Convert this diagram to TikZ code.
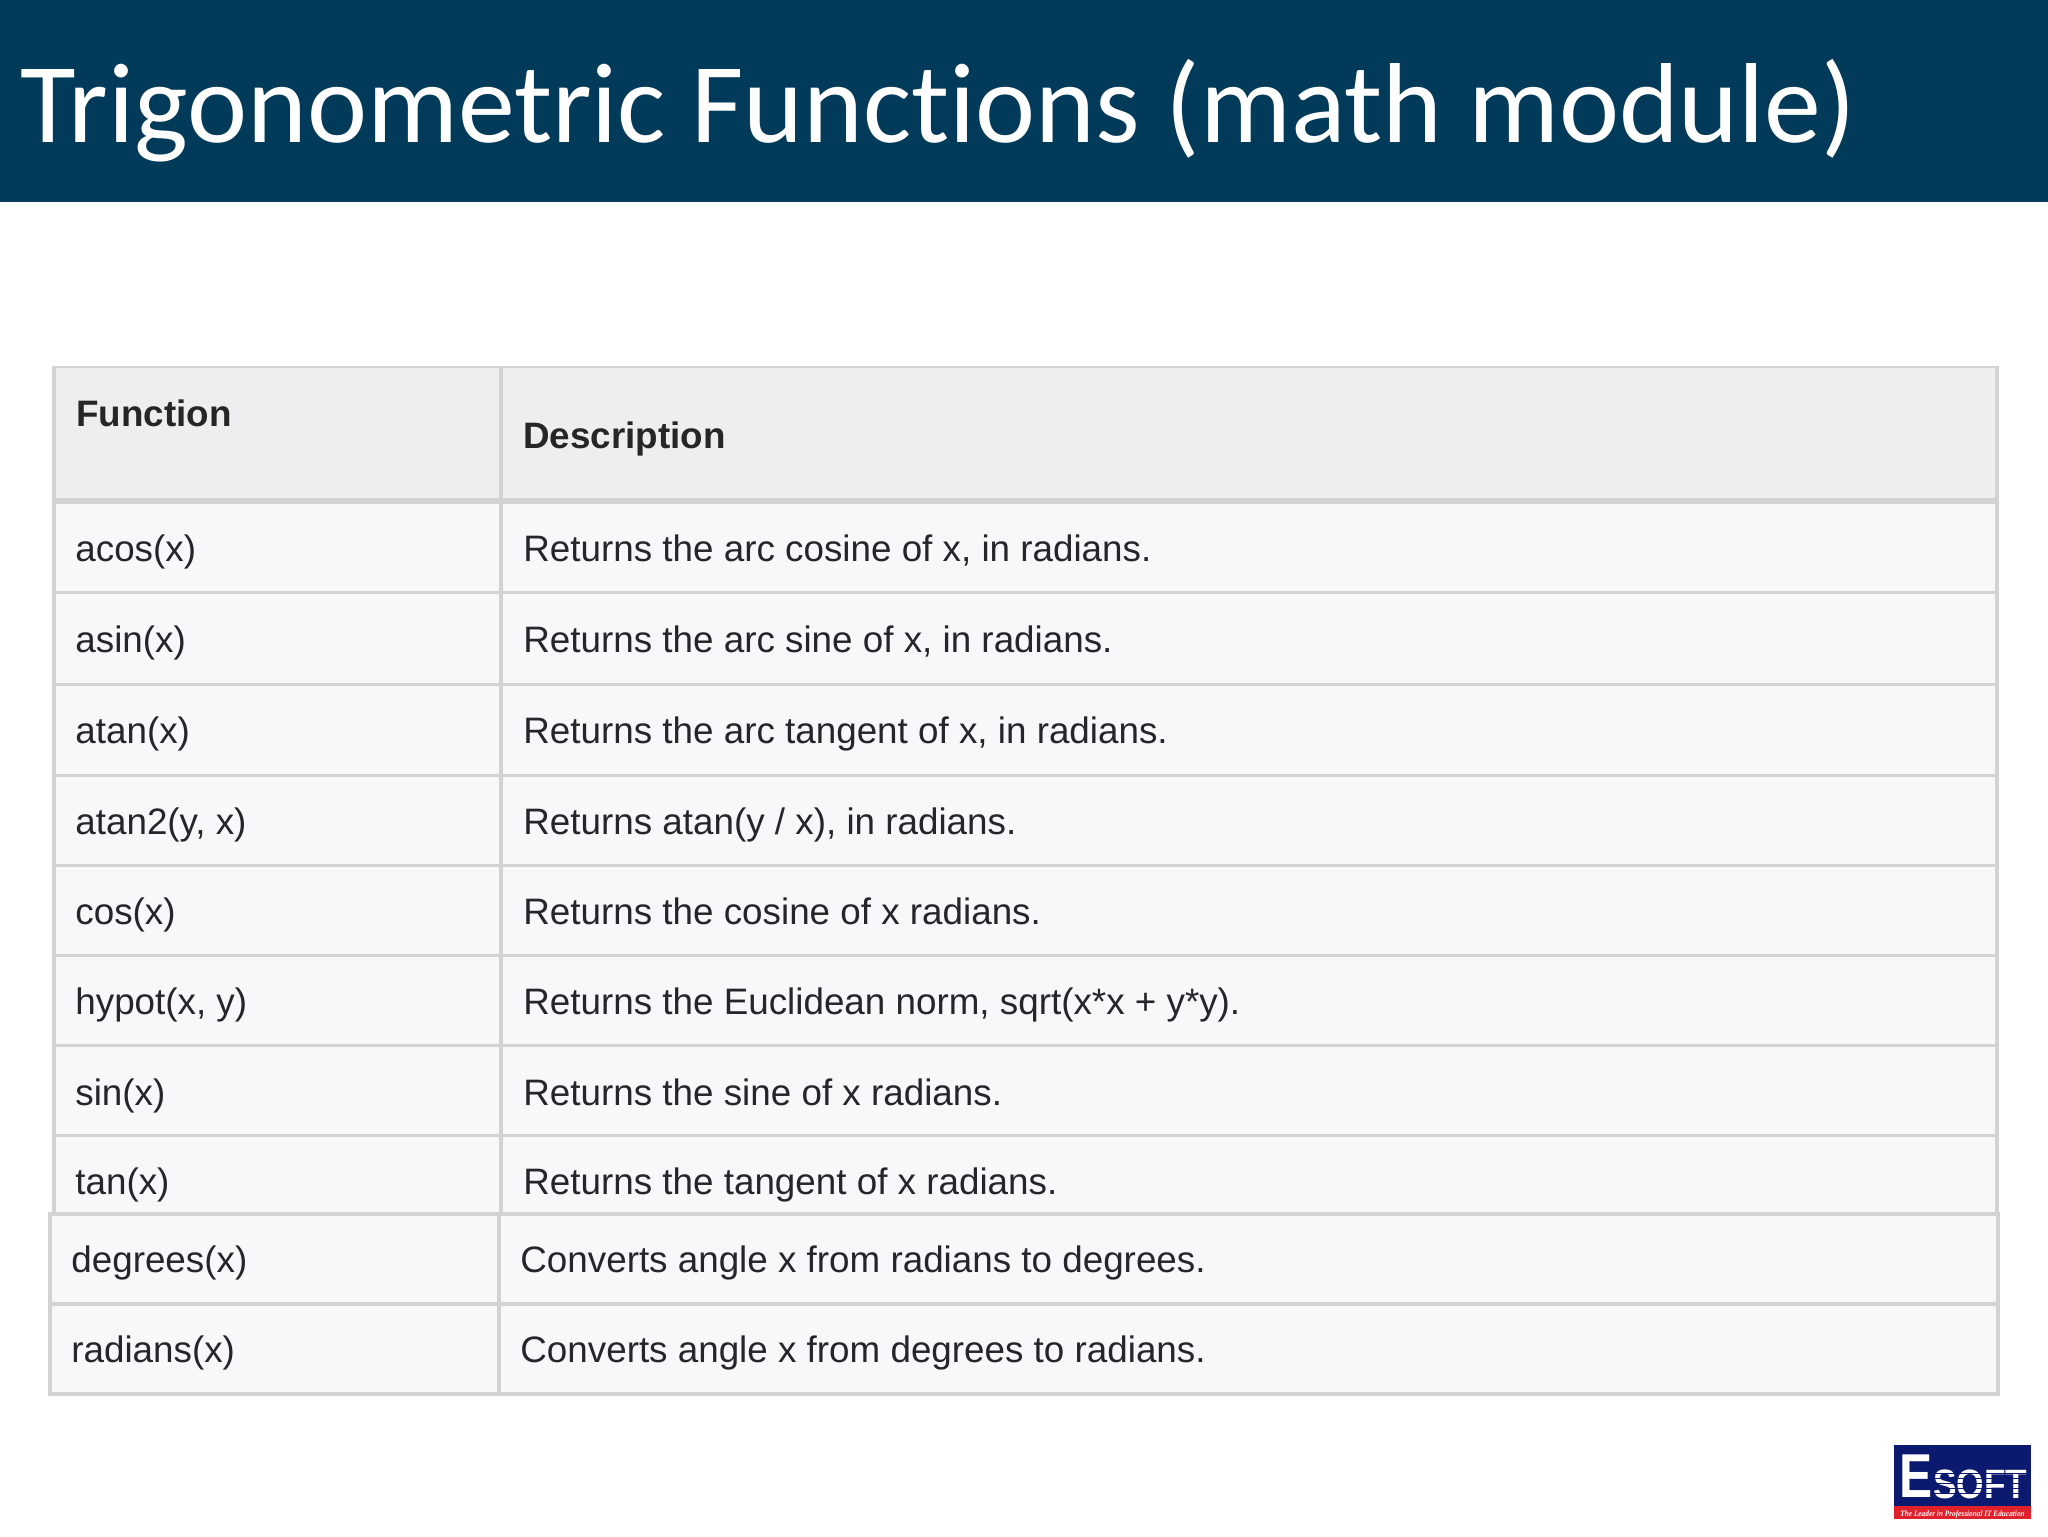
\documentclass[tikz,border=0pt]{standalone}
\usepackage{fontspec}
\usepackage{graphicx}
\setmainfont{Liberation Sans}
\newfontfamily\titlefont[Ligatures=NoCommon]{Carlito}
\newfontfamily\logoserif{Liberation Serif}
\definecolor{banner}{HTML}{023A5A}
\definecolor{headfill}{HTML}{EEEDEF}
\definecolor{cellfill}{HTML}{F8F7F9}
\definecolor{rulegrey}{HTML}{D3D2D5}
\definecolor{inktext}{HTML}{26262A}
\definecolor{logoblue}{HTML}{0B1A6E}
\definecolor{logored}{HTML}{E0202A}
\tikzset{
  x=0.5pt,y=-0.5pt,
  cellrule/.style={draw=rulegrey,line width=1.5pt},
  cell/.style={anchor=base west,inner sep=0pt,text=inktext,font=\fontsize{18.4}{22}\selectfont},
  headcell/.style={anchor=base west,inner sep=0pt,text=black!85,font=\fontsize{18.4}{22}\selectfont\bfseries},
}
\begin{document}
\begin{tikzpicture}
\useasboundingbox (0,0) rectangle (2048,1536);
\fill[white] (0,0) rectangle (2048,1536);
\fill[banner] (0,0) rectangle (2048,202);
\node[anchor=base west,inner sep=0pt,text=white,font=\titlefont\fontsize{56.9}{60}\selectfont] (title) at (20,142.5) {Trigonometric Functions (math module)};
% upper table
\fill[cellfill] (54,367) rectangle (1998,1214);
\fill[headfill] (54,367) rectangle (1998,501);
\draw[cellrule,line width=1pt] (52,367) -- (1998,367);
\draw[cellrule,line width=3pt] (54,501) -- (1998,501);
\foreach \yy in {592,684,775,865,955,1045,1135}
  \draw[cellrule] (54,\yy) -- (1998,\yy);
\draw[cellrule,line width=2.2pt] (54,366) -- (54,1214);
\draw[cellrule,line width=2.2pt] (1997,366) -- (1997,1214);
\draw[cellrule,line width=2pt] (501,367) -- (501,1214);
% lower table
\fill[cellfill] (50,1214) rectangle (1998,1394);
\draw[cellrule,line width=1.8pt] (50,1214) rectangle (1998,1394);
\draw[cellrule,line width=1.8pt] (50,1304) -- (1998,1304);
\draw[cellrule,line width=1.8pt] (499,1214) -- (499,1394);
% header text
\node[headcell] (hf) at (76,426.5) {Function};
\node[headcell] (hd) at (523,448.5) {Description};
% rows
\node[cell] (f1) at (75,561.5) {acos(x)};
\node[cell] (d1) at (523,561.5) {Returns the arc cosine of x, in radians.};
\node[cell] (f2) at (75,652.5) {asin(x)};
\node[cell] (d2) at (523,652.5) {Returns the arc sine of x, in radians.};
\node[cell] (f3) at (75,743.5) {atan(x)};
\node[cell] (d3) at (523,743.5) {Returns the arc tangent of x, in radians.};
\node[cell] (f4) at (75,834.5) {atan2(y, x)};
\node[cell] (d4) at (523,834.5) {Returns atan(y / x), in radians.};
\node[cell] (f5) at (75,924.5) {cos(x)};
\node[cell] (d5) at (523,924.5) {Returns the cosine of x radians.};
\node[cell] (f6) at (75,1014) {hypot(x, y)};
\node[cell] (d6) at (523,1014) {Returns the Euclidean norm, sqrt(x*x + y*y).};
\node[cell] (f7) at (75,1105.5) {sin(x)};
\node[cell] (d7) at (523,1105.5) {Returns the sine of x radians.};
\node[cell] (f8) at (75,1194.5) {tan(x)};
\node[cell] (d8) at (523,1194.5) {Returns the tangent of x radians.};
\node[cell] (f9) at (71,1272.5) {degrees(x)};
\node[cell] (d9) at (520,1272.5) {Converts angle x from radians to degrees.};
\node[cell] (f10) at (71,1362.5) {radians(x)};
\node[cell] (d10) at (520,1362.5) {Converts angle x from degrees to radians.};
% logo
\fill[logoblue] (1894,1445) rectangle (2031,1507);
\fill[logored] (1894,1506) rectangle (2031,1519);
\node[anchor=base west,inner sep=0pt,text=white,font=\bfseries\fontsize{31}{31}\selectfont] (logoe) at (1899,1497) {\scalebox{0.8}[1]{E}};
\node[anchor=base west,inner sep=0pt,text=white,font=\bfseries\fontsize{20.5}{20}\selectfont] (logos) at (1933,1498) {\scalebox{0.86}[1]{SOFT}};
\foreach \yy in {1473.5,1478.5,1483.5,1488.5,1493.5}
  \draw[logoblue,line width=0.6pt] (1932,\yy) -- (2028,\yy);
\node[anchor=base west,inner sep=0pt,text=white,font=\logoserif\bfseries\itshape\fontsize{4.1}{5}\selectfont] (logot) at (1900,1516) {\scalebox{0.89}[1]{The Leader in Professional IT Education}};
\end{tikzpicture}
\end{document}
